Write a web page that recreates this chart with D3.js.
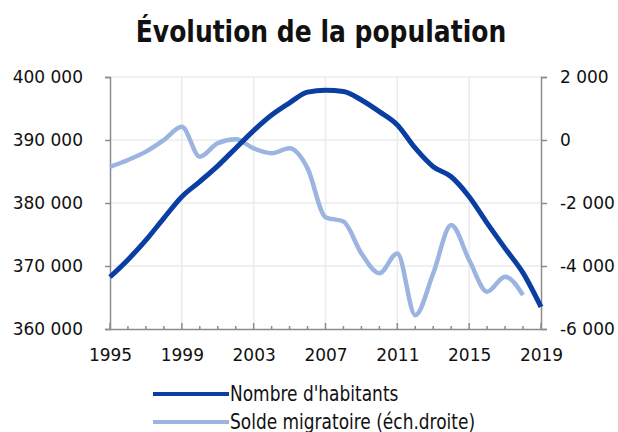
<!DOCTYPE html>
<html>
<head>
<meta charset="utf-8">
<script src="https://cdn.jsdelivr.net/npm/d3@7"></script>
<style>
  body { margin: 0; background: #fff; }
  text { font-family: "DejaVu Sans", sans-serif; fill: #111; }
</style>
</head>
<body>
<div id="chart"></div>
<script>
var years = d3.range(1995, 2020);
var habitants = [368250, 371000, 374100, 377600, 381000, 383400, 385900, 388700, 391500, 393970,
                 395900, 397600, 397900, 397700, 396350, 394500, 392400, 388700, 385760, 384170,
                 381000, 376800, 372800, 368900, 363500];
var soldeYears = d3.range(1995, 2019);
var solde = [-850, -635, -370, 0, 420, -530, -100, 20, -265, -420, -265, -900, -2450, -2590,
             -3600, -4230, -3600, -5560, -4230, -2700, -3810, -4815, -4340, -4920];
var leftTicks = [360000, 370000, 380000, 390000, 400000];
var rightTicks = [-6000, -4000, -2000, 0, 2000];
var yearLabels = [1995, 1999, 2003, 2007, 2011, 2015, 2019];
var seriesNames = ["Nombre d'habitants", "Solde migratoire (éch.droite)"];
var colors = ["#0a3ea3", "#9bb4e0"];

var width = 618, height = 432,
    margin = {top: 77, right: 77, bottom: 103, left: 110};

var svg = d3.select("#chart").append("svg")
    .attr("width", width)
    .attr("height", height);

var x = d3.scaleLinear().domain([1995, 2019]).range([margin.left, width - margin.right]);
var yL = d3.scaleLinear().domain([360000, 400000]).range([height - margin.bottom, margin.top]);
var yR = d3.scaleLinear().domain([-6000, 2000]).range([height - margin.bottom, margin.top]);

var fmt = function(v) { return d3.format(",")(v).replace(/,/g, " ").replace("\u2212", "-"); };

svg.append("text")
    .attr("transform", "translate(321,42) scale(1,1.2)")
    .attr("text-anchor", "middle")
    .style("font-size", "25px").style("font-weight", "bold")
    .text("Évolution de la population");

// gridlines
var grid = svg.append("g").attr("stroke", "#ebebeb").attr("stroke-width", 1.5);
grid.selectAll(".h").data(leftTicks.slice(1)).enter().append("line")
    .attr("x1", x(1995)).attr("x2", x(2019))
    .attr("y1", yL).attr("y2", yL);
grid.selectAll(".v").data(yearLabels.slice(1, -1)).enter().append("line")
    .attr("x1", x).attr("x2", x)
    .attr("y1", yL(360000)).attr("y2", yL(400000));

// axes
var axisColor = "#8c8c8c";
var left = svg.append("g")
    .attr("transform", "translate(" + x(1995) + ",0)")
    .call(d3.axisLeft(yL).tickValues(leftTicks).tickSize(5).tickPadding(22).tickFormat(fmt));
var right = svg.append("g")
    .attr("transform", "translate(" + x(2019) + ",0)")
    .call(d3.axisRight(yR).tickValues(rightTicks).tickSize(6).tickPadding(13).tickFormat(fmt));

var bottom = svg.append("g")
    .attr("transform", "translate(0," + yL(360000) + ")")
    .call(d3.axisBottom(x).tickValues(yearLabels).tickSize(0).tickPadding(18).tickFormat(d3.format("d")));
bottom.selectAll(".tick line").remove();

svg.append("g").selectAll("line").data(years).enter().append("line")
    .attr("x1", x).attr("x2", x)
    .attr("y1", yL(360000))
    .attr("y2", function(d) { return yL(360000) - ((d - 1995) % 4 == 0 ? 6 : 3); })
    .attr("stroke", axisColor).attr("stroke-width", 1.5);

[left, right, bottom].forEach(function(g) {
  g.select(".domain").attr("stroke", axisColor).attr("stroke-width", 1.5);
  g.selectAll(".tick line").attr("stroke", axisColor).attr("stroke-width", 1.5);
  g.selectAll("text").style("font-size", "17px").style("font-family", "DejaVu Sans")
    .attr("fill", "#111").attr("transform", "scale(1,1.08)");
});

// lines
var lineL = d3.line().curve(d3.curveMonotoneX)
    .x(function(d, i) { return x(years[i]); })
    .y(function(d) { return yL(d); });
var lineR = d3.line().curve(d3.curveMonotoneX)
    .x(function(d, i) { return x(soldeYears[i]); })
    .y(function(d) { return yR(d); });

svg.append("path").datum(solde)
    .attr("d", lineR).attr("fill", "none")
    .attr("stroke", colors[1]).attr("stroke-width", 4.5).attr("stroke-linejoin", "round");
svg.append("path").datum(habitants)
    .attr("d", lineL).attr("fill", "none")
    .attr("stroke", colors[0]).attr("stroke-width", 5).attr("stroke-linejoin", "round");

// legend
var legend = svg.append("g").selectAll("g").data(seriesNames).enter().append("g")
    .attr("transform", function(d, i) { return "translate(153," + (394 + i * 28) + ")"; });
legend.append("line")
    .attr("x1", 0).attr("x2", 76)
    .attr("stroke", function(d, i) { return colors[i]; })
    .attr("stroke-width", 4);
legend.append("text")
    .attr("x", 77).attr("dy", "0.35em")
    .attr("transform", "scale(1,1.2)")
    .style("font-size", "17px")
    .text(function(d) { return d; });
</script>
</body>
</html>
